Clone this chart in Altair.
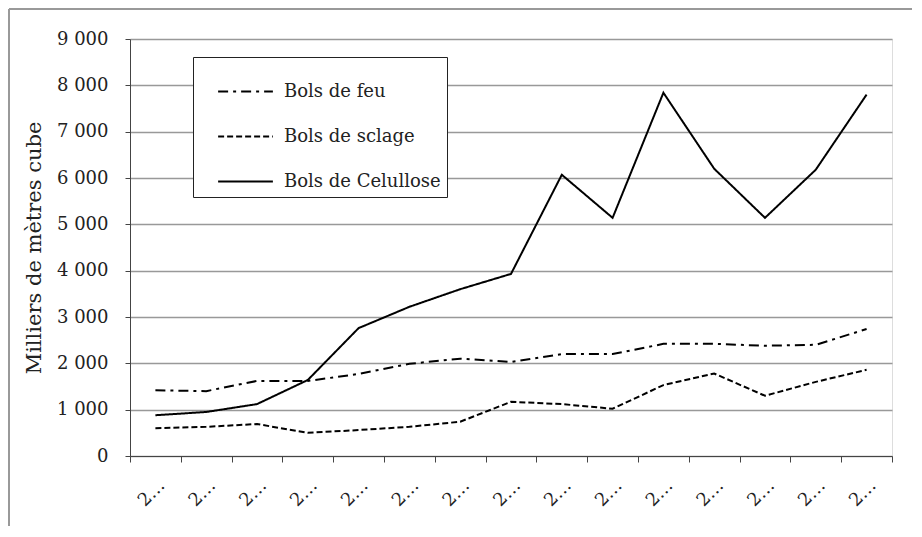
import altair as alt
import pandas as pd

years = [str(y) for y in range(2000, 2015)]
feu = [1420, 1400, 1620, 1620, 1770, 1990, 2100, 2030, 2200, 2200, 2420, 2420, 2380, 2400, 2740]
sciage = [600, 630, 690, 500, 560, 630, 740, 1170, 1120, 1020, 1530, 1780, 1300, 1600, 1860]
cellulose = [880, 950, 1120, 1640, 2760, 3220, 3600, 3930, 6070, 5140, 7840, 6200, 5140, 6180, 7800]
series = ["Bols de feu", "Bols de sclage", "Bols de Celullose"]

rows = []
for name, vals in zip(series, [feu, sciage, cellulose]):
    for y, v in zip(years, vals):
        rows.append({"annee": y, "valeur": v, "serie": name})
df = pd.DataFrame(rows)

FONT = "DejaVu Serif"
W, H = 762, 417

lines = alt.Chart(df).mark_line(color="black", strokeWidth=2).encode(
    x=alt.X("annee:O", sort=years, title=None,
            scale=alt.Scale(paddingInner=0, paddingOuter=0),
            axis=alt.Axis(labelAngle=-45, labelLimit=30, tickBand="extent",
                          labelFont=FONT, labelFontSize=18, labelColor="#222",
                          domainColor="#444", tickColor="#444", tickSize=6,
                          labelPadding=14, grid=False)),
    y=alt.Y("valeur:Q", title="Milliers de mètres cube",
            scale=alt.Scale(domain=[0, 9000], nice=False),
            axis=alt.Axis(values=list(range(0, 9001, 1000)),
                          labelExpr="replace(format(datum.value, ',d'), ',', ' ')",
                          labelFont=FONT, labelFontSize=18, labelColor="#222",
                          titleFont=FONT, titleFontSize=21, titleFontWeight="normal",
                          titleColor="#222", titlePadding=12,
                          domainColor="#444", tickColor="#444", tickSize=5,
                          labelPadding=17, gridColor="#999", gridWidth=1.5)),
    strokeDash=alt.StrokeDash("serie:N", sort=series,
        scale=alt.Scale(domain=series, range=[[10, 5, 3, 5], [6, 3], [1, 0]]),
        legend=alt.Legend(title=None, orient="none", legendX=63, legendY=18,
                          symbolType="stroke", symbolSize=3000, symbolStrokeWidth=2,
                          symbolStrokeColor="black", symbolOffset=18,
                          labelFont=FONT, labelFontSize=18, labelColor="#222",
                          labelLimit=400,
                          rowPadding=7, padding=6, fillColor="white",
                          strokeColor="#222", labelOffset=10)),
)

border = alt.Chart(pd.DataFrame({"a": [0]})).mark_rule(color="#999", strokeWidth=2).encode(
    x=alt.value(-121), y=alt.value(-30), y2=alt.value(540))
border_top = alt.Chart(pd.DataFrame({"a": [0]})).mark_rule(color="#999", strokeWidth=2).encode(
    x=alt.value(-121), x2=alt.value(800), y=alt.value(-30))

chart = alt.layer(border, border_top, lines).properties(
    width=W, height=H,
    padding={"left": 122, "top": 31, "right": 20, "bottom": 70},
    autosize=alt.AutoSizeParams(type="none"),
).configure_view(stroke="#666", strokeWidth=1.5).configure(background="white")

chart.save("out.html", embed_options={"renderer": "svg", "actions": False})
